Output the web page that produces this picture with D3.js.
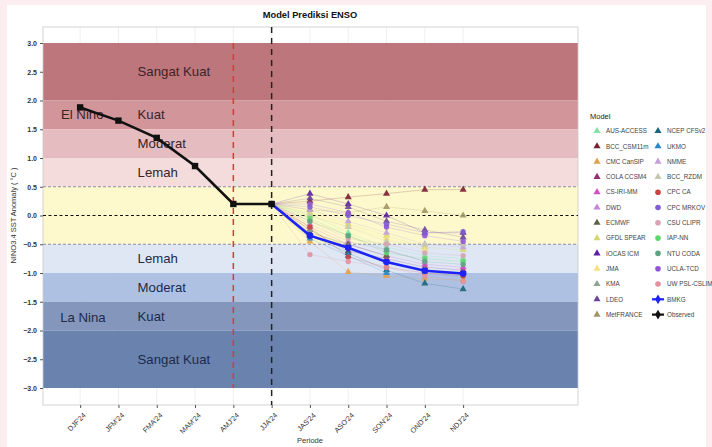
<!DOCTYPE html>
<html>
<head>
<meta charset="utf-8">
<script src="https://cdn.jsdelivr.net/npm/d3@7"></script>
<style>
  html, body { margin: 0; padding: 0; background: #fcedf0; }
  svg { display: block; font-family: "Liberation Sans", Arial, sans-serif; }
</style>
</head>
<body>
<svg id="chart" width="712" height="447"></svg>
<script>
// ---- data ----
const periods = ["DJF'24", "JFM'24", "FMA'24", "MAM'24", "AMJ'24", "JJA'24",
                 "JAS'24", "ASO'24", "SON'24", "OND'24", "NDJ'24"];
const yTicks = [3.0, 2.5, 2.0, 1.5, 1.0, 0.5, 0.0, -0.5, -1.0, -1.5, -2.0, -2.5, -3.0];

// observed NINO3.4 anomaly, DJF'24 .. JJA'24
const observed = [1.88, 1.65, 1.35, 0.86, 0.20, 0.20];
// BMKG ensemble, JJA'24 .. NDJ'24
const bmkg = [0.20, -0.35, -0.56, -0.81, -0.96, -1.01];

// model forecasts for JAS'24 .. NDJ'24 (null = not issued)
const modelNames = [
  "AUS-ACCESS", "BCC_CSM11m", "CMC CanSIP", "COLA CCSM4", "CS-IRI-MM", "DWD",
  "ECMWF", "GFDL SPEAR", "IOCAS ICM", "JMA", "KMA", "LDEO", "MetFRANCE",
  "NCEP CFSv2", "UKMO", "NMME", "BCC_RZDM", "CPC CA", "CPC MRKOV", "CSU CLIPR",
  "IAP-NN", "NTU CODA", "UCLA-TCD", "UW PSL-CSLIM"
];
const modelForecasts = [
  [ 0.02, -0.30, -0.55, -0.70, -0.75],
  [ 0.25,  0.32,  0.38,  0.45,  0.45],
  [-0.45, -0.98, -1.05, -1.10, -1.12],
  [-0.25, -0.62, -0.75, -0.90, -0.95],
  [-0.20, -0.50, -0.70, -0.85, -0.90],
  [-0.15, -0.45, -0.60, -0.80, null],
  [-0.30, -0.50, -0.70, null, null],
  [ 0.05, -0.15, -0.35, -0.55, -0.60],
  [ 0.38,  0.20,  0.00, -0.30, -0.30],
  [ 0.00, -0.20, -0.40, -0.60, null],
  [-0.25, -0.55, -0.80, -0.95, -1.00],
  [ 0.30,  0.15, -0.10, -0.25, -0.38],
  [ 0.10,  0.05,  0.15,  0.08,  0.00],
  [-0.35, -0.65, -0.95, -1.18, -1.28],
  [-0.40, -0.70, -1.00, null, null],
  [ 0.10, -0.10, -0.30, -0.50, -0.55],
  [ 0.00, -0.20, -0.45, -0.50, -0.50],
  [-0.20, -0.72, -0.90, -1.00, -1.05],
  [ 0.15,  0.00, -0.15, -0.30, -0.28],
  [-0.10, -0.40, -0.50, -0.65, -0.70],
  [-0.05, -0.35, -0.65, -0.75, -0.80],
  [-0.10, -0.35, -0.60, -0.80, -0.85],
  [ 0.20,  0.05, -0.20, -0.35, -0.45],
  [-0.68, -0.80, -0.90, -1.05, -1.15]
];
const modelColors = [
  "#7fe3a3", "#7a1f33", "#e3a04e", "#9a2d6e", "#d24fc3", "#c485d8",
  "#5f6042", "#d6d76e", "#5e1fa4", "#f3e27d", "#8fa394", "#6b4496", "#a09564",
  "#1b6678", "#2b87c8", "#c3a1d8", "#c3c9b1", "#c8423f", "#7f5fd3", "#d6a3b4",
  "#5fd66a", "#5ea284", "#8e55d6", "#e3909f"
];
const modelShapes = [
  "tri","tri","tri","tri","tri","tri","tri","tri","tri","tri","tri","tri","tri",
  "tri","tri","tri","tri","dot","dot","dot","dot","dot","dot","dot"
];

// ENSO intensity bands
const bandLo    = [2.0, 1.5, 1.0, 0.5, -0.5, -1.0, -1.5, -2.0, -3.0];
const bandHi    = [3.0, 2.0, 1.5, 1.0,  0.5, -0.5, -1.0, -1.5, -2.0];
const bandFill  = ["#b96c73", "#cd8d92", "#e3b8bb", "#f3d9da", "#fdf9c8",
                   "#dde5f4", "#a9bce0", "#7b8eb6", "#5f7aa8"];
const bandLabel = ["Sangat Kuat", "Kuat", "Moderat", "Lemah", "",
                   "Lemah", "Moderat", "Kuat", "Sangat Kuat"];

// ---- layout ----
const svg = d3.select("#chart");
const P = { left: 43, right: 578, top: 27, bottom: 405 };

svg.append("rect").attr("x", 7).attr("y", 5).attr("width", 699).attr("height", 442)
  .attr("fill", "#ffffff");

const x = d3.scaleLinear().domain([-0.97, 13]).range([P.left, P.right]);
const y = d3.scaleLinear().domain([-3.0, 3.0]).range([388, 43]);

const plot = svg.append("g");

// grid
plot.selectAll("line.vg").data(periods).join("line")
  .attr("x1", (d, i) => x(i)).attr("x2", (d, i) => x(i))
  .attr("y1", P.top).attr("y2", P.bottom)
  .attr("stroke", "#e4e4e4").attr("stroke-width", 0.6);

// bands
plot.selectAll("rect.band").data(bandLo).join("rect")
  .attr("x", P.left).attr("width", P.right - P.left)
  .attr("y", (d, i) => y(bandHi[i])).attr("height", (d, i) => y(d) - y(bandHi[i]))
  .attr("fill", (d, i) => bandFill[i]).attr("opacity", 0.93);

// panel border
plot.append("rect").attr("x", P.left).attr("y", P.top)
  .attr("width", P.right - P.left).attr("height", P.bottom - P.top)
  .attr("fill", "none").attr("stroke", "#c8c8c8").attr("stroke-width", 0.8);

// band labels
plot.selectAll("text.band").data(bandLabel).join("text")
  .attr("x", x(1.5)).attr("y", (d, i) => y((bandLo[i] + bandHi[i]) / 2))
  .attr("dy", "0.35em").attr("font-size", 13.2)
  .attr("fill", (d, i) => i < 4 ? "#3b2326" : "#1d2a4a")
  .text(d => d);
plot.append("text").attr("x", x(-0.5)).attr("y", y(1.75)).attr("dy", "0.35em")
  .attr("font-size", 13.2).attr("fill", "#3b2326").text("El Nino");
plot.append("text").attr("x", x(-0.52)).attr("y", y(-1.78)).attr("dy", "0.35em")
  .attr("font-size", 13.2).attr("fill", "#1d2a4a").text("La Nina");

// reference lines
[0.5, -0.5].forEach(v => plot.append("line")
  .attr("x1", P.left).attr("x2", P.right).attr("y1", y(v)).attr("y2", y(v))
  .attr("stroke", "#8c8aa6").attr("stroke-width", 1.1).attr("stroke-dasharray", "3,2"));
plot.append("line").attr("x1", P.left).attr("x2", P.right).attr("y1", y(0)).attr("y2", y(0))
  .attr("stroke", "#111").attr("stroke-width", 1.1).attr("stroke-dasharray", "3,2.5");
plot.append("line").attr("x1", x(4)).attr("x2", x(4)).attr("y1", y(3)).attr("y2", y(-3))
  .attr("stroke", "#e8323a").attr("stroke-width", 1.5).attr("stroke-dasharray", "6,5");
plot.append("line").attr("x1", x(5)).attr("x2", x(5)).attr("y1", P.top).attr("y2", P.bottom)
  .attr("stroke", "#222").attr("stroke-width", 1.5).attr("stroke-dasharray", "6,5");

// model fan lines (start from the last observed season)
const startIdx = 5;
const lineGen = d3.line().defined(d => d[1] !== null).x(d => x(d[0])).y(d => y(d[1]));
modelForecasts.forEach((vals, m) => {
  const pts = [[startIdx, observed[observed.length - 1]]]
    .concat(vals.map((v, k) => [startIdx + 1 + k, v]));
  plot.append("path").attr("d", lineGen(pts)).attr("fill", "none")
    .attr("stroke", modelColors[m]).attr("stroke-opacity", 0.3).attr("stroke-width", 0.7);
});

// model markers
const tri = d3.symbol().type(d3.symbolTriangle).size(22);
modelForecasts.forEach((vals, m) => {
  vals.forEach((v, k) => {
    if (v === null) return;
    const cx = x(startIdx + 1 + k), cy = y(v);
    if (modelShapes[m] === "tri") {
      plot.append("path").attr("d", tri()).attr("transform", `translate(${cx},${cy})`)
        .attr("fill", modelColors[m]).attr("opacity", 0.9);
    } else {
      plot.append("circle").attr("cx", cx).attr("cy", cy).attr("r", 2.7)
        .attr("fill", modelColors[m]).attr("opacity", 0.9);
    }
  });
});

// BMKG ensemble
const bmkgPts = bmkg.map((v, k) => [startIdx + k, v]);
plot.append("path").attr("d", lineGen(bmkgPts)).attr("fill", "none")
  .attr("stroke", "#1d22f5").attr("stroke-width", 2.6);
plot.selectAll("circle.bmkg").data(bmkgPts).join("circle")
  .attr("cx", d => x(d[0])).attr("cy", d => y(d[1])).attr("r", 3.3).attr("fill", "#1d22f5");

// observed
const obsPts = observed.map((v, k) => [k, v]);
plot.append("path").attr("d", lineGen(obsPts)).attr("fill", "none")
  .attr("stroke", "#111").attr("stroke-width", 2.6);
plot.selectAll("rect.obs").data(obsPts).join("rect")
  .attr("x", d => x(d[0]) - 3.2).attr("y", d => y(d[1]) - 3.2)
  .attr("width", 6.4).attr("height", 6.4).attr("fill", "#111");

// axes
const yAxis = d3.axisLeft(y).tickValues(yTicks).tickFormat(d3.format(".1f")).tickSize(3);
const gy = svg.append("g").attr("transform", `translate(${P.left},0)`).call(yAxis);
gy.select(".domain").remove();
gy.selectAll("line").attr("stroke", "#555");
gy.selectAll("text").attr("font-size", 7).attr("fill", "#333").attr("font-weight", "bold")
  .attr("font-family", "Liberation Sans, Arial, sans-serif");

const xAxis = d3.axisBottom(x).tickValues(d3.range(periods.length))
  .tickFormat(i => periods[i]).tickSize(3);
const gx = svg.append("g").attr("transform", `translate(0,${P.bottom})`).call(xAxis);
gx.select(".domain").remove();
gx.selectAll("line").attr("stroke", "#555");
gx.selectAll("text").attr("font-size", 7.2).attr("fill", "#333")
  .attr("font-family", "Liberation Sans, Arial, sans-serif")
  .attr("text-anchor", "end").attr("transform", "translate(4,9) rotate(-45)")
  .attr("dy", "0.35em").attr("y", 0).attr("x", 0);

// titles
svg.append("text").attr("x", 310).attr("y", 18).attr("text-anchor", "middle")
  .attr("font-size", 9.3).attr("font-weight", "bold").attr("fill", "#111")
  .text("Model Prediksi ENSO");
svg.append("text").attr("x", 310).attr("y", 443).attr("text-anchor", "middle")
  .attr("font-size", 7.5).attr("fill", "#333").text("Periode");
svg.append("text").attr("transform", `translate(16,${y(0)}) rotate(-90)`)
  .attr("text-anchor", "middle").attr("font-size", 7.5).attr("fill", "#333")
  .text("NINO3.4 SST Anomaly ( °C )");

// legend
const legendItems = modelNames.map((n, m) => ({ name: n, color: modelColors[m], shape: modelShapes[m] }))
  .concat([{ name: "BMKG", color: "#1d22f5", shape: "line" },
           { name: "Observed", color: "#111", shape: "line" }]);
const lg = svg.append("g");
lg.append("text").attr("x", 590).attr("y", 119).attr("font-size", 7.5).attr("fill", "#222")
  .text("Model");
legendItems.forEach((it, i) => {
  const col = Math.floor(i / 13), row = i % 13;
  const kx = col === 0 ? 597 : 658, ky = 131 + row * 15.3;
  if (it.shape === "tri") {
    lg.append("path").attr("d", tri()).attr("transform", `translate(${kx},${ky})`).attr("fill", it.color);
  } else if (it.shape === "dot") {
    lg.append("circle").attr("cx", kx).attr("cy", ky).attr("r", 2.8).attr("fill", it.color);
  } else {
    lg.append("line").attr("x1", kx - 6).attr("x2", kx + 6).attr("y1", ky).attr("y2", ky)
      .attr("stroke", it.color).attr("stroke-width", 2.2);
    lg.append("path").attr("d", d3.symbol().type(d3.symbolDiamond).size(28)())
      .attr("transform", `translate(${kx},${ky})`).attr("fill", it.color);
  }
  lg.append("text").attr("x", kx + 9).attr("y", ky).attr("dy", "0.35em")
    .attr("font-size", 6.3).attr("fill", "#444").text(it.name);
});
</script>
</body>
</html>
